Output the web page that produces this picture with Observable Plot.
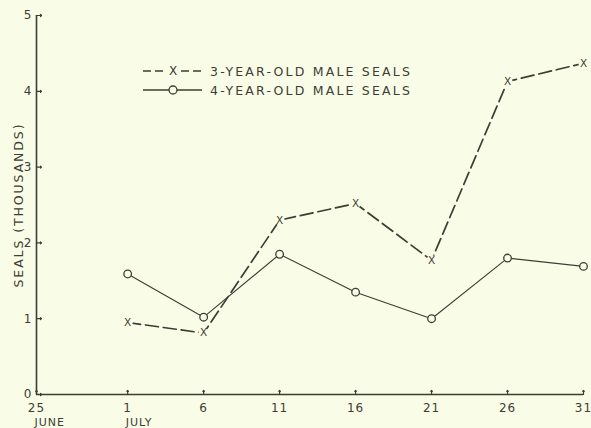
<!DOCTYPE html>
<html>
<head>
<meta charset="utf-8">
<script src="https://cdn.jsdelivr.net/npm/d3@7"></script>
<script src="https://cdn.jsdelivr.net/npm/@observablehq/plot@0.6"></script>
<style>
  html, body { margin: 0; padding: 0; background: #f9fce6; }
  #wrap { position: relative; width: 591px; height: 428px; }
  #legend { position: absolute; left: 0; top: 0; width: 591px; height: 428px; pointer-events: none; }
  svg text { font-family: "DejaVu Sans", sans-serif; }
  .ylab text { letter-spacing: 1.9px; }
  .month text { letter-spacing: 1px; }
  .xnum text { letter-spacing: 1px; }
</style>
</head>
<body>
<div id="wrap"></div>
<script>
// Day of July (30 June = 0, 25 June = -5)
const days = [1, 6, 11, 16, 21, 26, 31];
const threeYear = [0.95, 0.81, 2.30, 2.52, 1.77, 4.13, 4.37];
const fourYear  = [1.59, 1.02, 1.85, 1.35, 1.00, 1.80, 1.69];
const xTicks = [-5, 1, 6, 11, 16, 21, 26, 31];
const xTickLabels = ["25", "1", "6", "11", "16", "21", "26", "31"];
const monthTicks = [-5, 1];
const monthLabels = ["JUNE", "JULY"];
const yTicks = [0, 1, 2, 3, 4, 5];
const seriesNames = ["3-YEAR-OLD MALE SEALS", "4-YEAR-OLD MALE SEALS"];
const yLabel = "SEALS (THOUSANDS)";

const ink = "#3d3d35";
const bg = "#f9fce6";
const s3 = days.map((d, i) => ({x: d, y: threeYear[i]}));
const s4 = days.map((d, i) => ({x: d, y: fourYear[i]}));
const labelOf = new Map(xTicks.map((t, i) => [t, xTickLabels[i]]));
const months = monthTicks.map((t, i) => ({x: t, label: monthLabels[i]}));

const chart = Plot.plot({
  width: 591,
  height: 428,
  marginTop: 15,
  marginBottom: 34,
  marginLeft: 36,
  marginRight: 8,
  style: {background: bg, color: ink, fontFamily: "DejaVu Sans, sans-serif"},
  x: {domain: [-5, 31]},
  y: {domain: [0, 5]},
  marks: [
    Plot.axisX({ticks: xTicks, tickSize: 0, tickPadding: 9, tickFormat: d => labelOf.get(d), fontSize: 12, label: null, className: "xnum"}),
    Plot.text(months, {x: "x", y: 0, text: "label", dy: 28, dx: -2, textAnchor: "start", fontSize: 11, fill: ink, className: "month"}),
    Plot.axisY({ticks: yTicks, tickSize: 0, tickPadding: 5, tickFormat: d3.format("d"), fontSize: 12, label: null}),
    Plot.text([yLabel], {frameAnchor: "left", rotate: -90, dx: -18, textAnchor: "middle", fontSize: 12.5, fill: ink, className: "ylab"}),
    Plot.ruleX([-5], {y1: 0, y2: 5, stroke: ink, strokeWidth: 1.6}),
    Plot.ruleY([0], {x1: -5, x2: 31, stroke: ink, strokeWidth: 1.6}),
    Plot.vector(xTicks, {x: d => d, y: 0, length: 4, rotate: 0, anchor: "start", stroke: ink, strokeWidth: 1.2}),
    Plot.vector(yTicks, {x: -5, y: d => d, length: 5, rotate: 90, anchor: "start", stroke: ink, strokeWidth: 1.2}),
    Plot.line(s4, {x: "x", y: "y", stroke: ink, strokeWidth: 1.1}),
    Plot.line(s3, {x: "x", y: "y", stroke: ink, strokeWidth: 1.7, strokeDasharray: "13,5"}),
    Plot.dot(s4, {x: "x", y: "y", r: 3.8, fill: bg, stroke: ink, strokeWidth: 1.3}),
    Plot.dot(s3, {x: "x", y: "y", r: 5, fill: bg, stroke: "none"}),
    Plot.text(s3, {x: "x", y: "y", text: d => "X", fontSize: 10.5, fill: ink})
  ]
});
document.getElementById("wrap").appendChild(chart);

// Legend overlay
const ns = "http://www.w3.org/2000/svg";
const lg = document.createElementNS(ns, "svg");
lg.setAttribute("id", "legend");
lg.setAttribute("width", 591);
lg.setAttribute("height", 428);
function el(tag, attrs, text) {
  const e = document.createElementNS(ns, tag);
  for (const k in attrs) e.setAttribute(k, attrs[k]);
  if (text != null) e.textContent = text;
  lg.appendChild(e);
  return e;
}
// row 1: dashed with X
el("line", {x1: 143, x2: 166, y1: 71, y2: 71, stroke: ink, "stroke-width": 1.6, "stroke-dasharray": "8,4"});
el("text", {x: 173, y: 71, "text-anchor": "middle", "dominant-baseline": "central", "font-size": 12, fill: ink}, "X");
el("line", {x1: 181, x2: 203, y1: 71, y2: 71, stroke: ink, "stroke-width": 1.6, "stroke-dasharray": "8,4"});
el("text", {x: 210, y: 71, "dominant-baseline": "central", "font-size": 12.5, fill: ink, style: "letter-spacing:2.2px"}, seriesNames[0]);
// row 2: solid with o
el("line", {x1: 143, x2: 202, y1: 90, y2: 90, stroke: ink, "stroke-width": 1.5});
el("circle", {cx: 173, cy: 90, r: 4, fill: bg, stroke: ink, "stroke-width": 1.3});
el("text", {x: 210, y: 90, "dominant-baseline": "central", "font-size": 12.5, fill: ink, style: "letter-spacing:2.2px"}, seriesNames[1]);
document.getElementById("wrap").appendChild(lg);
</script>
</body>
</html>
